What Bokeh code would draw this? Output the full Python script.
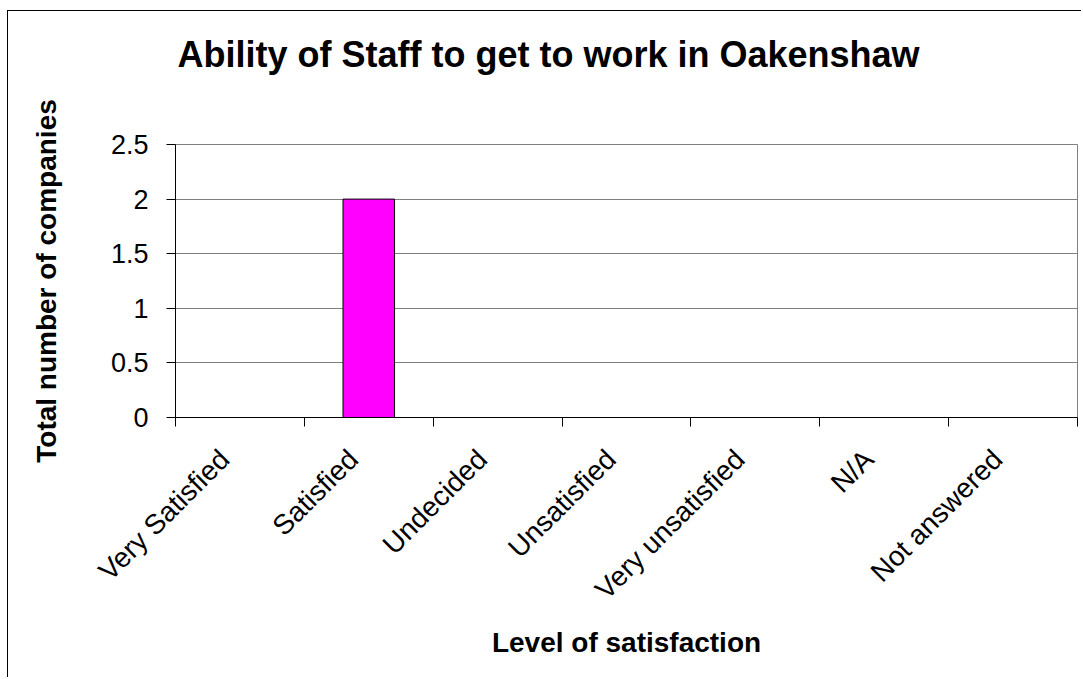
import math
from bokeh.plotting import figure
from bokeh.models import Range1d, FixedTicker, NumeralTickFormatter, Title
from bokeh.embed import file_html
from bokeh.resources import INLINE

# ---- data ----
categories = ["Very Satisfied", "Satisfied", "Undecided", "Unsatisfied",
              "Very unsatisfied", "N/A", "Not answered"]
companies = [0, 2, 0, 0, 0, 0, 0]
y_ticks = [0, 0.5, 1, 1.5, 2, 2.5]

title_text = "Ability of Staff to get to work in Oakenshaw"
x_title = "Level of satisfaction"
y_title = "Total number of companies"

FONT = "Liberation Sans"

n = len(categories)
centers = [i + 0.5 for i in range(n)]
boundaries = list(range(n + 1))
label_shift = 0.12  # rotated labels end slightly left of the category centre
label_pos = [c - label_shift for c in centers]

p = figure(width=1074, height=667,
           x_range=Range1d(0, n), y_range=Range1d(0, max(y_ticks)),
           output_backend="svg", toolbar_location=None,
           min_border_left=167, min_border_top=133,
           min_border_right=5, min_border_bottom=261,
           title=None)

p.styles = {"margin-left": "7px", "margin-top": "10px",
            "border-left": "1px solid #000000", "border-top": "1px solid #000000"}

p.background_fill_color = "white"
p.border_fill_color = "white"
p.outline_line_color = "#808080"
p.outline_line_width = 1

# spacer between frame and title (first added = closest to the frame)
p.add_layout(Title(text=" ", text_font=FONT, text_font_size="10px",
                   standoff=57), "above")
# title
p.add_layout(Title(text=title_text, align="left", offset=2, standoff=0,
                   text_font=FONT, text_font_size="36px",
                   text_font_style="bold", text_color="black"), "above")

# bars
p.vbar(x=centers, top=companies, width=0.4,
       fill_color="#FF00FF", line_color="black", line_width=1)

# y axis
p.yaxis.ticker = FixedTicker(ticks=y_ticks)
p.yaxis.formatter = NumeralTickFormatter(format="0.[0]")
p.yaxis.major_tick_in = 0
p.yaxis.major_tick_out = 9
p.yaxis.minor_tick_line_color = None
p.yaxis.major_label_standoff = 18
p.yaxis.major_label_text_font = FONT
p.yaxis.major_label_text_font_size = "27px"
p.yaxis.major_label_text_color = "black"
p.yaxis.axis_line_color = "black"
p.yaxis.major_tick_line_color = "black"
p.yaxis.axis_label = y_title
p.yaxis.axis_label_text_font = FONT
p.yaxis.axis_label_text_font_size = "28px"
p.yaxis.axis_label_text_font_style = "bold"
p.yaxis.axis_label_text_color = "black"
p.yaxis.axis_label_standoff = 46

# x axis
p.xaxis.ticker = FixedTicker(ticks=label_pos, minor_ticks=boundaries)
p.xaxis.major_label_overrides = {c: cat for c, cat in zip(label_pos, categories)}
p.xaxis.major_tick_line_color = None
p.xaxis.major_tick_in = 0
p.xaxis.major_tick_out = 9
p.xaxis.minor_tick_in = 0
p.xaxis.minor_tick_out = 9
p.xaxis.minor_tick_line_color = "black"
p.xaxis.axis_line_color = "black"
p.xaxis.major_label_orientation = math.pi / 4
p.xaxis.major_label_standoff = 28
p.xaxis.major_label_text_font = FONT
p.xaxis.major_label_text_font_size = "28px"
p.xaxis.major_label_text_color = "black"
p.xaxis.axis_label = x_title
p.xaxis.axis_label_text_font = FONT
p.xaxis.axis_label_text_font_size = "28px"
p.xaxis.axis_label_text_font_style = "bold"
p.xaxis.axis_label_text_color = "black"
p.xaxis.axis_label_standoff = 8

# grids
p.xgrid.visible = False
p.ygrid.ticker = FixedTicker(ticks=y_ticks)
p.ygrid.grid_line_color = "#808080"
p.ygrid.grid_line_width = 1

open("out.html", "w").write(file_html(p, INLINE))
